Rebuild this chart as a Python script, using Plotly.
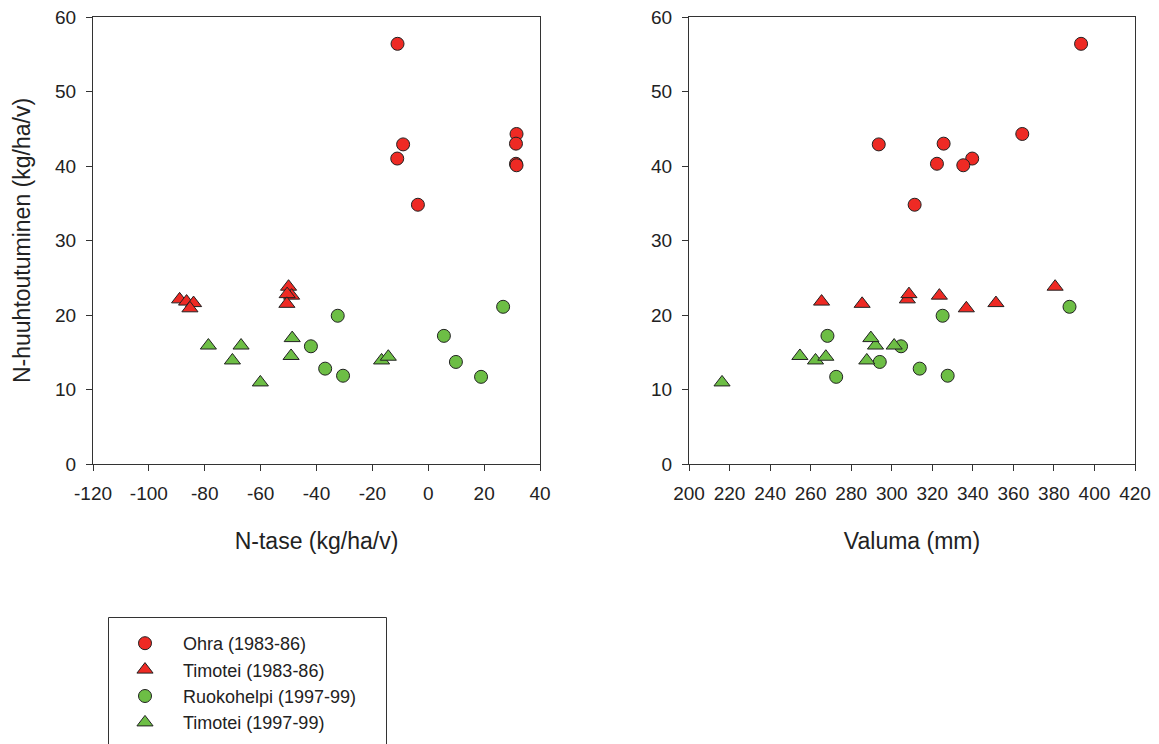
import plotly.graph_objects as go

# ---- data ----
ohra_y = [56.4, 42.9, 41.0, 34.8, 44.3, 43.0, 40.3, 40.1]
ohra_tase = [-11.0, -9.0, -11.1, -3.7, 31.6, 31.4, 31.4, 31.6]
ohra_valuma = [393.4, 293.6, 339.7, 311.3, 364.4, 325.6, 322.3, 335.3]

tim83_y = [22.1, 21.8, 21.6, 20.9, 23.8, 22.6, 22.8, 21.5]
tim83_tase = [-89.0, -86.5, -84.0, -85.3, -50.0, -48.9, -50.5, -50.6]
tim83_valuma = [307.7, 265.4, 351.4, 336.8, 380.6, 323.5, 308.5, 285.4]

ruoko_y = [19.9, 15.8, 12.8, 11.85, 17.2, 13.7, 11.7, 21.1]
ruoko_tase = [-32.4, -42.0, -36.9, -30.5, 5.6, 9.9, 18.9, 26.8]
ruoko_valuma = [325.1, 304.6, 313.8, 327.6, 268.3, 294.1, 272.6, 387.7]

tim97_y = [15.9, 15.9, 13.9, 10.95, 16.9, 14.5, 13.9, 14.4]
tim97_tase = [-78.7, -67.0, -70.1, -60.1, -48.7, -49.1, -16.7, -14.3]
tim97_valuma = [301.2, 292.0, 262.4, 216.3, 289.7, 254.7, 287.7, 267.5]

series_names = ["Ohra (1983-86)", "Timotei (1983-86)", "Ruokohelpi (1997-99)", "Timotei (1997-99)"]
x_title_left = "N-tase (kg/ha/v)"
x_title_right = "Valuma (mm)"
y_title = "N-huuhtoutuminen (kg/ha/v)"

tase_ticks = [-120, -100, -80, -60, -40, -20, 0, 20, 40]
tase_ticktext = ["-120", "-100", "-80", "-60", "-40", "-20", "0", "20", "40"]
valuma_ticks = [200, 220, 240, 260, 280, 300, 320, 340, 360, 380, 400, 420]
y_ticks = [0, 10, 20, 30, 40, 50, 60]

RED = "#EE2A24"
GREEN = "#6DBE45"
EDGE = "#222222"
FONT = "Liberation Sans, Arial, sans-serif"
TXT = "#222222"

series = [
    (series_names[0], ohra_tase, ohra_valuma, ohra_y, RED, "circle"),
    (series_names[1], tim83_tase, tim83_valuma, tim83_y, RED, "triangle-up"),
    (series_names[2], ruoko_tase, ruoko_valuma, ruoko_y, GREEN, "circle"),
    (series_names[3], tim97_tase, tim97_valuma, tim97_y, GREEN, "triangle-up"),
]

fig = go.Figure()
for name, xt, xv, y, col, sym in series:
    size = 13 if sym == "circle" else 14
    mk = dict(color=col, symbol=sym, size=size, line=dict(color=EDGE, width=1))
    fig.add_trace(go.Scatter(x=xt, y=y, mode="markers", name=name, marker=mk,
                             xaxis="x", yaxis="y", showlegend=True))
    fig.add_trace(go.Scatter(x=xv, y=y, mode="markers", name=name, marker=mk,
                             xaxis="x2", yaxis="y2", showlegend=False))

W, H = 1159, 744
L, R, T, B = 93, 1135, 17, 464


def px_x(px):
    return (px - L) / (R - L)


def px_y(py):
    return (B - py) / (B - T)


axis_common = dict(
    showline=True, linecolor="#333333", linewidth=1, mirror=True,
    ticks="outside", ticklen=6, tickwidth=1, tickcolor="#333333",
    showgrid=False, zeroline=False,
    tickfont=dict(family=FONT, size=19, color=TXT),
    ticklabelstandoff=6,
)

fig.update_layout(
    width=W, height=H,
    margin=dict(l=L, r=W - R, t=T, b=H - B, pad=0, autoexpand=False),
    paper_bgcolor="white", plot_bgcolor="white",
    font=dict(family=FONT, color=TXT),
    xaxis=dict(domain=[0, px_x(540)], range=[-120, 40], anchor="y",
               tickmode="array", tickvals=tase_ticks, ticktext=tase_ticktext,
               title=dict(text=x_title_left, font=dict(family=FONT, size=23, color=TXT), standoff=30),
               **axis_common),
    yaxis=dict(domain=[0, 1], range=[0, 60], anchor="x",
               tickmode="array", tickvals=y_ticks,
               title=dict(text=y_title, font=dict(family=FONT, size=23, color=TXT), standoff=18),
               **axis_common),
    xaxis2=dict(domain=[px_x(689), 1], range=[200, 420], anchor="y2",
                tickmode="array", tickvals=valuma_ticks,
                title=dict(text=x_title_right, font=dict(family=FONT, size=23, color=TXT), standoff=30),
                **axis_common),
    yaxis2=dict(domain=[0, 1], range=[0, 60], anchor="x2",
                tickmode="array", tickvals=y_ticks, **axis_common),
    legend=dict(
        x=px_x(107), y=px_y(625), xanchor="left", yanchor="top",
        font=dict(family=FONT, size=18, color=TXT),
        bgcolor="rgba(0,0,0,0)", borderwidth=0, itemwidth=66,
        tracegroupgap=0,
    ),
    shapes=[dict(type="rect", xref="paper", yref="paper",
                 x0=px_x(108.5), x1=px_x(386.5), y0=px_y(617.5), y1=px_y(770),
                 line=dict(color="#333333", width=1), fillcolor="rgba(0,0,0,0)")],
)

fig.write_html("out.html")
